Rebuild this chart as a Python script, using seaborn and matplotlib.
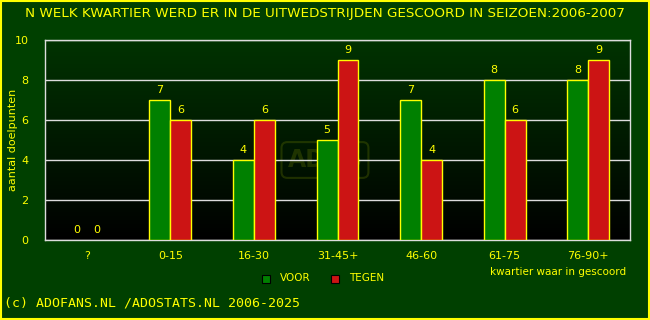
import numpy as np
import pandas as pd
import matplotlib
matplotlib.use("Agg")
import matplotlib.pyplot as plt
import seaborn as sns
from matplotlib.patches import Rectangle
from matplotlib.colors import LinearSegmentedColormap

categories = ["?", "0-15", "16-30", "31-45+", "46-60", "61-75", "76-90+"]
voor = [0, 7, 4, 5, 7, 8, 8]
tegen = [0, 6, 6, 9, 4, 6, 9]
series_names = ["VOOR", "TEGEN"]
yticks = [0, 2, 4, 6, 8, 10]

title = "N WELK KWARTIER WERD ER IN DE UITWEDSTRIJDEN GESCOORD IN SEIZOEN:2006-2007"
footer = "(c) ADOFANS.NL /ADOSTATS.NL 2006-2025"
ylabel = "aantal doelpunten"
xlabel = "kwartier waar in gescoord"

df = pd.DataFrame({
    "cat": categories * 2,
    "val": voor + tegen,
    "serie": [series_names[0]] * len(categories) + [series_names[1]] * len(categories),
})

BG = "#004000"
YEL = "#ffff00"
sns.set_style("white")
plt.rcParams['font.family'] = ['DejaVu Sans']

fig = plt.figure(figsize=(6.5, 3.2), dpi=100, facecolor=BG)
ax = fig.add_axes([45/650, 1-240/320, 585/650, 200/320])
ax.set_facecolor("black")

# gradient background
grad = np.linspace(0, 1, 256).reshape(-1, 1)
cmap = LinearSegmentedColormap.from_list("g", ["#000000", "#003300"])
ax.imshow(grad, aspect="auto", cmap=cmap, origin="lower",
          extent=[-0.5, len(categories)-0.5, 0, 10], zorder=0)

sns.barplot(data=df, x="cat", y="val", hue="serie", order=categories,
            hue_order=series_names, palette=["#008000", "#cc1414"],
            width=0.5, edgecolor=YEL, linewidth=1.0, saturation=1,
            legend=False, ax=ax, zorder=3)

for cont in ax.containers:
    for rect in cont:
        h = rect.get_height()
        if h == 0:
            rect.set_linewidth(0)
        ax.text(rect.get_x() + rect.get_width()/2, h + 0.25, f"{int(h)}",
                ha="center", va="bottom", color=YEL, fontsize=8, zorder=5)

ax.set_xlim(-0.5, len(categories)-0.5)
ax.set_ylim(0, 10)
ax.set_yticks(yticks)
ax.set_yticklabels([str(t) for t in yticks])
ax.yaxis.grid(True, color="#dddddd", linewidth=1.0, zorder=1)
ax.set_axisbelow(False)
for l in ax.get_ygridlines():
    l.set_zorder(1)
ax.tick_params(axis="both", length=0, colors=YEL, labelsize=8, pad=12)
ax.tick_params(axis="x", pad=8)
ax.set_xlabel("")
ax.set_ylabel("")
for s in ax.spines.values():
    s.set_color("#dddddd")
    s.set_linewidth(1.0)

# watermark
ax.text(2.85, 4.0, "ADOS", ha="center", va="center", fontsize=17, fontweight="bold",
        color="#5a6e00", alpha=0.35, zorder=2,
        bbox=dict(boxstyle="round,pad=0.25", fc="none", ec="#5a6e00", alpha=0.35, lw=1.5))

fig.text(0.5, 1-13/320, title, ha="center", va="center", color=YEL, fontsize=9.7)
fig.text(13/650, 1-140/320, ylabel, rotation=90, ha="center", va="center", color=YEL, fontsize=8)
fig.text(558/650, 1-272/320, xlabel, ha="center", va="center", color=YEL, fontsize=7.5)
fig.text(4/650, 1-303/320, footer, ha="left", va="center", color=YEL, fontsize=9.5,
         family="DejaVu Sans Mono")

# legend
for xs, col, name in [(262, "#008000", "VOOR"), (331, "#cc1414", "TEGEN")]:
    fig.patches.append(Rectangle((xs/650, 1-283/320), 8/650, 8/320, transform=fig.transFigure,
                                 fc=col, ec="black", lw=0.8))
    fig.text((xs+18)/650, 1-278/320, name, ha="left", va="center", color=YEL, fontsize=7.5)

fig.patches.append(Rectangle((0.0015, 0.003), 0.997, 0.994, transform=fig.transFigure,
                             fc="none", ec=YEL, lw=1.5))

fig.savefig("out.png", dpi=100, facecolor=BG)
